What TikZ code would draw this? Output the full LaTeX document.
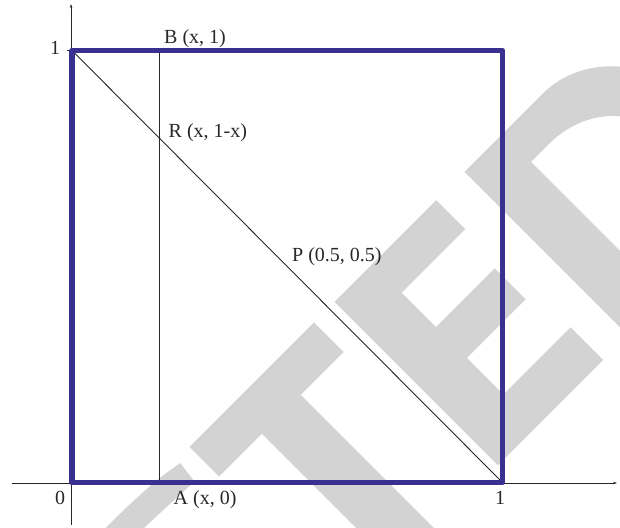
\documentclass[tikz,border=0pt]{standalone}
\usepackage{fontspec}
\setmainfont{Liberation Serif}
\usetikzlibrary{arrows.meta}
\definecolor{sqblue}{RGB}{58,48,145}
\definecolor{wmgray}{RGB}{211,211,211}
\definecolor{txt}{RGB}{40,40,40}
\begin{document}
\begin{tikzpicture}[x=1pt,y=-1pt,
  thinline/.style={line width=0.9pt, draw=black!85},
  box/.style={line width=5.5pt, draw=sqblue, line join=round},
  lbl/.style={anchor=base west, inner sep=0pt, text=txt, font=\fontsize{20}{24}\selectfont},
  num/.style={anchor=base, inner sep=0pt, text=txt, font=\fontsize{20}{24}\selectfont},
  wm/.style={fill=wmgray, draw=none}]
\useasboundingbox (0,0) rectangle (620,527);
% watermark
\begin{scope}
\clip (0,0) rectangle (620,527);
\begin{scope}[shift={(481.5,481.5)}, x=1pt, y=1pt, rotate=45]
  % C
  \fill[wm] (-200,226) .. controls (-230,232) and (-265,233) .. (-300,233)
     .. controls (-375,233) and (-420,182) .. (-420,116)
     .. controls (-420,48) and (-375,-3) .. (-300,-3)
     .. controls (-262,-3) and (-228,3) .. (-200,10) -- (-200,36)
     .. controls (-225,30) and (-262,26) .. (-292,26)
     .. controls (-345,26) and (-372,64) .. (-372,116)
     .. controls (-372,170) and (-345,206) .. (-292,206)
     .. controls (-262,206) and (-228,204) .. (-203,203) -- cycle;
  % T
  \fill[wm] (-182,189) rectangle (-6,231) (-121.5,0) rectangle (-66.5,231);
  % E
  \fill[wm] (23,0) rectangle (77,231) (23,190) rectangle (167,231)
     (23,97.6) rectangle (160,141.4) (23,0) rectangle (172,46);
  % D
  \fill[wm, even odd rule] (207,0) -- (207,231) -- (317,231)
     arc[start angle=90, end angle=-90, x radius=103pt, y radius=115.5pt] -- cycle
     (261,40) -- (261,191) -- (287,191)
     arc[start angle=90, end angle=-90, x radius=86pt, y radius=75.5pt] -- cycle;
\end{scope}
\end{scope}
% points
\coordinate (TL) at (72,50.5);
\coordinate (TR) at (502.5,50.5);
\coordinate (BR) at (502.5,482.5);
\coordinate (BL) at (72,482.5);
\coordinate (B) at (159,50.5);
\coordinate (A) at (159,482.5);
\coordinate (xs) at (12,483);
\coordinate (xe) at (617,483);
\coordinate (ys) at (71,525);
\coordinate (ye) at (71,4);
\coordinate (tick) at (67,50.5);
% axes
\draw[thinline, -{Stealth[length=4pt,width=2.5pt]}] (xs) -- (xe);
\draw[thinline, -{Stealth[length=4pt,width=2.5pt]}] (ys) -- (ye);
\draw[thinline] (tick) -- (TL);
% inner lines
\draw[thinline] (A) -- (B);
\draw[thinline] (TL) -- (BR);
% square
\draw[box] (TL) -- (TR) -- (BR) -- (BL) -- cycle;
% labels
\node[num] (ly1) at (55,55) {1};
\node[num] (lx0) at (60,504) {0};
\node[num] (lx1) at (500,504) {1};
\node[lbl] (lB) at (164,43.3) {B (x, 1)};
\node[lbl] (lR) at (168.5,137.3) {R (x, 1-x)};
\node[lbl] (lP) at (292,261.7) {P (0.5, 0.5)};
\node[lbl] (lA) at (173.5,504) {A (x, 0)};
\end{tikzpicture}
\end{document}
